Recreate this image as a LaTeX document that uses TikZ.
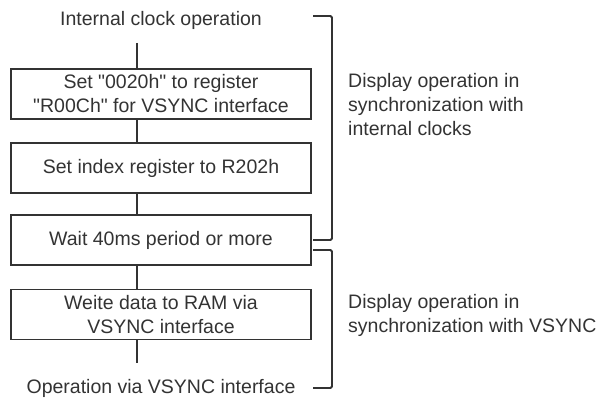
\documentclass[tikz,border=0pt]{standalone}
\usepackage{fontspec}
\setmainfont{Liberation Sans}[Ligatures=TeXOff]
\definecolor{ink}{HTML}{333333}
\begin{document}
\begin{tikzpicture}[x=1pt,y=-1pt,
  every node/.style={text=ink,font=\fontsize{19.5}{24}\selectfont},
  stepbox/.style={draw=ink,line width=1.9pt,minimum width=300pt,minimum height=50pt,align=center,inner sep=0pt},
  conn/.style={draw=ink,line width=1.9pt},
  brk/.style={draw=ink,line width=1.9pt,rounded corners=1.5pt}]
\useasboundingbox (0,0) rectangle (604,398);
\node (top) at (161,20) {Internal clock operation};
\node[stepbox] (b1) at (161,94) {Set "0020h" to register\\"R00Ch" for VSYNC interface};
\node[stepbox] (b2) at (161,168) {Set index register to R202h};
\node[stepbox] (b3) at (161,240) {Wait 40ms period or more};
\node[stepbox] (b4) at (161,314.5) {Weite data to RAM via\\VSYNC interface};
\node (bot) at (161,388) {Operation via VSYNC interface};
\coordinate (c0) at (137,43);
\coordinate (c5) at (137,363);
\draw[conn] (c0) -- (c0 |- b1.north);
\draw[conn] (c0 |- b1.south) -- (c0 |- b2.north);
\draw[conn] (c0 |- b2.south) -- (c0 |- b3.north);
\draw[conn] (c0 |- b3.south) -- (c0 |- b4.north);
\draw[conn] (c0 |- b4.south) -- (c5);
\draw[brk] (313,16) -- (332,16) -- (332,240) -- (313,240);
\draw[brk] (313,250) -- (332,250) -- (332,388) -- (313,388);
\node[anchor=west,align=left,inner sep=0pt] (l1) at (348,105) {Display operation in\\synchronization with\\internal clocks};
\node[anchor=west,align=left,inner sep=0pt] (l2) at (348,315.5) {Display operation in\\synchronization with VSYNC};
\end{tikzpicture}
\end{document}
